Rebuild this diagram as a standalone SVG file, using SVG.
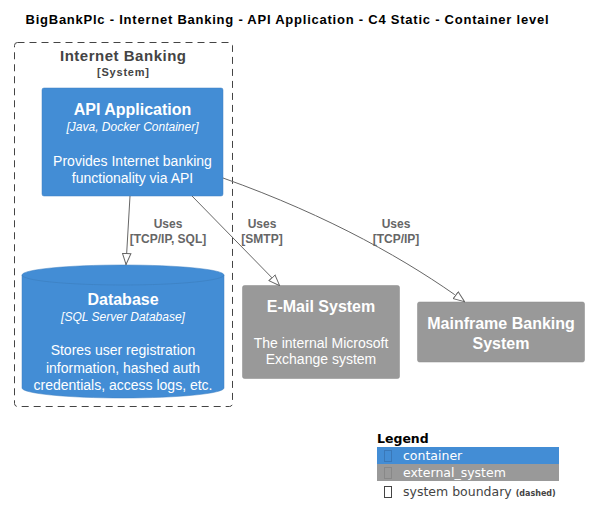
<svg xmlns="http://www.w3.org/2000/svg" width="589" height="525" viewBox="0 0 589 525">
<defs>
<style>
.t{font-family:"Liberation Sans",Arial,sans-serif;text-anchor:middle}
.title{font-size:13px;font-weight:bold;fill:#000}
.nm{font-size:16px;font-weight:bold;fill:#fff}
.tech{font-size:12px;font-style:italic;fill:#fff}
.desc{font-size:14px;fill:#fff}
.lbl{font-size:12px;font-weight:bold;fill:#666}
.conn{fill:none;stroke:#666;stroke-width:1}
.lg{font-family:"DejaVu Sans",sans-serif;font-size:12.5px}
</style>
<marker id="arr" viewBox="0 0 12 10" refX="12" refY="5" markerWidth="12" markerHeight="10" orient="auto" markerUnits="userSpaceOnUse">
<path d="M0.5,0.8 L11.5,5 L0.5,9.2 Z" fill="#fff" stroke="#666" stroke-width="1"/>
</marker>
</defs>
<rect width="589" height="525" fill="#fff"/>
<text class="t title" x="287" y="24" textLength="523" lengthAdjust="spacing">BigBankPlc - Internet Banking - API Application - C4 Static - Container level</text>

<g id="boundary">
<rect x="14.5" y="42.5" width="218" height="364" rx="3" fill="none" stroke="#444" stroke-width="1" stroke-dasharray="7,5"/>
<text class="t" x="123" y="61" font-size="15" font-weight="bold" fill="#444" textLength="126" lengthAdjust="spacing">Internet Banking</text>
<text class="t" x="123" y="76" font-size="11" font-weight="bold" fill="#444" textLength="52" lengthAdjust="spacing">[System]</text>
</g>

<g id="api">
<rect x="42" y="88" width="181" height="108" rx="2" fill="#438DD5" stroke="#3C7FC0" stroke-width="0.5"/>
<text class="t nm" x="132.5" y="115">API Application</text>
<text class="t tech" x="132.5" y="131">[Java, Docker Container]</text>
<text class="t desc" x="132.5" y="166">Provides Internet banking</text>
<text class="t desc" x="132.5" y="183">functionality via API</text>
</g>

<g id="database">
<path d="M22,275 A101,10 0 0 1 224,275 L224,388 A101,10 0 0 1 22,388 Z" fill="#438DD5" stroke="#3C7FC0" stroke-width="0.5"/>
<path d="M22,275 A101,10 0 0 0 224,275" fill="none" stroke="#3C7FC0" stroke-width="0.7"/>
<text class="t nm" x="123" y="305">Database</text>
<text class="t tech" x="123" y="321">[SQL Server Database]</text>
<text class="t desc" x="123" y="355">Stores user registration</text>
<text class="t desc" x="123" y="373">information, hashed auth</text>
<text class="t desc" x="123" y="390">credentials, access logs, etc.</text>
</g>

<g id="email">
<rect x="242.5" y="285.5" width="157" height="93" rx="2" fill="#999999" stroke="#8A8A8A" stroke-width="0.5"/>
<text class="t nm" x="321" y="312">E-Mail System</text>
<text class="t desc" x="321" y="348">The internal Microsoft</text>
<text class="t desc" x="321" y="364">Exchange system</text>
</g>

<g id="mainframe">
<rect x="417.5" y="302" width="167" height="60" rx="2" fill="#999999" stroke="#8A8A8A" stroke-width="0.5"/>
<text class="t nm" x="501" y="329">Mainframe Banking</text>
<text class="t nm" x="501" y="349">System</text>
</g>

<g id="connectors">
<path class="conn" d="M130,196 L126,265" marker-end="url(#arr)"/>
<path class="conn" d="M192,196 L280,286" marker-end="url(#arr)"/>
<path class="conn" d="M223,178 C330,216 410,262 465,302" marker-end="url(#arr)"/>
<text class="t lbl" x="168" y="228">Uses</text>
<text class="t lbl" x="168" y="243">[TCP/IP, SQL]</text>
<text class="t lbl" x="262" y="228">Uses</text>
<text class="t lbl" x="262" y="243">[SMTP]</text>
<text class="t lbl" x="396" y="228">Uses</text>
<text class="t lbl" x="396" y="243">[TCP/IP]</text>
</g>

<g id="legend">
<text class="lg" x="377" y="443" font-size="13" font-weight="bold" fill="#000">Legend</text>
<rect x="377" y="447" width="182" height="17" fill="#438DD5"/>
<rect x="377" y="464" width="182" height="17" fill="#999999"/>
<rect x="384.5" y="450.5" width="7" height="11" fill="none" stroke="#3A78B8" stroke-width="1"/>
<rect x="384.5" y="467.5" width="7" height="11" fill="none" stroke="#888" stroke-width="1"/>
<rect x="384.5" y="486.5" width="7" height="11" fill="none" stroke="#444" stroke-width="1"/>
<text class="lg" x="403" y="460" fill="#fff">container</text>
<text class="lg" x="403" y="477" fill="#fff">external_system</text>
<text class="lg" x="403" y="496" fill="#444">system boundary <tspan font-size="8" font-weight="bold">(dashed)</tspan></text>
</g>
</svg>
